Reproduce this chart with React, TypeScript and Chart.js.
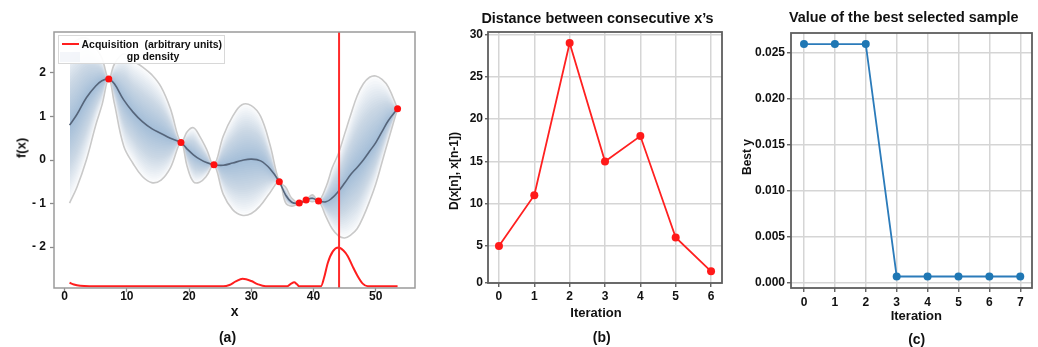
import React, { useEffect, useRef } from "react";
import { Chart, registerables } from "chart.js";
Chart.register(...registerables);

const FONT = '"Liberation Sans", Arial, Helvetica, sans-serif';

// ---------- Panel (a): GP posterior ----------
const gpX = [0.8, 2, 3.5, 5, 6, 7.1, 8, 9.5, 11, 12.5, 14, 15.5, 17, 18.7, 19.7, 20.7, 21.7, 22.8, 24, 25.5, 27, 28.5, 30, 31.5, 33, 34.5, 35.5, 36.5, 37.7, 38.8, 39.8, 40.8, 42, 43, 44, 45, 46, 47, 48, 49, 50, 51, 52, 53.5];
const gpMean = [0.8, 1.05, 1.43, 1.7, 1.82, 1.86, 1.75, 1.38, 1.1, 0.88, 0.72, 0.61, 0.5, 0.4, 0.25, 0.12, 0.02, -0.06, -0.11, -0.12, -0.07, -0.01, 0.02, -0.02, -0.2, -0.5, -0.8, -0.97, -0.99, -0.92, -0.88, -0.94, -0.96, -0.87, -0.72, -0.53, -0.33, -0.17, 0.0, 0.2, 0.4, 0.65, 0.9, 1.18];
const gpUpper = [2.59, 2.76, 2.8, 2.58, 2.34, 1.86, 2.2, 2.44, 2.28, 2.14, 1.96, 1.68, 1.18, 0.4, 0.65, 0.74, 0.55, 0.25, -0.11, 0.55, 1.0, 1.27, 1.25, 1.0, 0.35, -0.5, -0.62, -0.88, -0.99, -0.92, -0.8, -0.94, -0.62, -0.18, 0.15, 0.6, 1.05, 1.47, 1.75, 1.9, 1.93, 1.85, 1.68, 1.18];
const gpLower = [-0.99, -0.62, 0.0, 0.8, 1.26, 1.86, 1.3, 0.32, -0.08, -0.38, -0.52, -0.46, -0.18, 0.4, -0.15, -0.5, -0.51, -0.37, -0.11, -0.79, -1.14, -1.27, -1.23, -1.04, -0.75, -0.5, -0.98, -1.06, -0.99, -0.92, -0.96, -0.94, -1.3, -1.58, -1.74, -1.79, -1.72, -1.58, -1.3, -0.95, -0.55, -0.05, 0.45, 1.18];
const obsX = [7.1, 18.7, 24.0, 34.5, 37.7, 38.8, 40.8, 53.5];
const obsY = [1.86, 0.4, -0.11, -0.5, -0.99, -0.92, -0.94, 1.18];
const acqX = [0.8, 1.5, 2.5, 4, 25.5, 26.5, 27.5, 28.6, 30, 31, 32.3, 35.8, 36.4, 36.9, 37.3, 37.7, 41.2, 41.7, 42.3, 43.1, 44, 44.8, 45.5, 46.3, 47.1, 47.9, 48.7, 53.5];
const acqY = [-2.82, -2.86, -2.89, -2.9, -2.9, -2.87, -2.79, -2.73, -2.78, -2.85, -2.9, -2.9, -2.84, -2.81, -2.85, -2.9, -2.9, -2.7, -2.36, -2.1, -2.01, -2.08, -2.21, -2.45, -2.67, -2.84, -2.9, -2.9];
const nextX = 44.1;
const aXTicks = [0, 10, 20, 30, 40, 50];
const aYTicks = [-2, -1, 0, 1, 2];

// ---------- Panel (b): distance between consecutive x's ----------
const iterB = [0, 1, 2, 3, 4, 5, 6];
const distB = [5, 11, 29, 15, 18, 6, 2];
const bYTicks = [0, 5, 10, 15, 20, 25, 30];

// ---------- Panel (c): best selected sample ----------
const iterC = [0, 1, 2, 3, 4, 5, 6, 7];
const bestC = [0.0259, 0.0259, 0.0259, 0.00065, 0.00065, 0.00065, 0.00065, 0.00065];
const cYTicks = [0, 0.005, 0.01, 0.015, 0.02, 0.025];

const framePlugin = {
  id: "frame",
  afterDatasetsDraw(chart: any, _args: any, opts: any) {
    const { ctx, chartArea: a } = chart;
    ctx.save();
    ctx.strokeStyle = opts.color || "#666";
    ctx.lineWidth = opts.width || 1.5;
    ctx.strokeRect(a.left, a.top, a.right - a.left, a.bottom - a.top);
    ctx.restore();
  },
};

const tickFont = { family: FONT, size: 12, weight: "bold" as const };

function axis(min: number, max: number, ticks: number[], fit: (s: any) => void, extra: any = {}) {
  return {
    type: "linear",
    min,
    max,
    afterBuildTicks: (s: any) => {
      s.ticks = ticks.map((v) => ({ value: v }));
    },
    afterFit: fit,
    border: { display: false },
    ...extra,
  };
}

function baseOptions(padding: any, scales: any, frame: any) {
  return {
    animation: false,
    responsive: false,
    events: [],
    layout: { padding, autoPadding: false },
    plugins: { legend: { display: false }, tooltip: { enabled: false }, title: { display: false }, frame },
    scales,
  };
}

function buildA(canvas: HTMLCanvasElement) {
  const N = 26;
  const bands: any[] = [];
  for (let k = N; k >= 1; k--) {
    const f = k / N;
    bands.push({
      data: gpX.map((x, i) => ({ x, y: gpMean[i] + f * (gpUpper[i] - gpMean[i]) })),
      fill: "+1",
      backgroundColor: "rgba(60,110,170,0.02)",
      borderWidth: 0,
      pointRadius: 0,
      tension: 0.4,
      order: 20,
    });
    bands.push({
      data: gpX.map((x, i) => ({ x, y: gpMean[i] + f * (gpLower[i] - gpMean[i]) })),
      fill: false,
      borderWidth: 0,
      pointRadius: 0,
      tension: 0.4,
      order: 20,
    });
  }
  const datasets = [
    ...bands,
    { data: gpX.map((x, i) => ({ x, y: gpUpper[i] })), borderColor: "#c9c9c9", borderWidth: 1.6, pointRadius: 0, tension: 0.4, fill: false, order: 5 },
    { data: gpX.map((x, i) => ({ x, y: gpLower[i] })), borderColor: "#c9c9c9", borderWidth: 1.6, pointRadius: 0, tension: 0.4, fill: false, order: 5 },
    { data: gpX.map((x, i) => ({ x, y: gpMean[i] })), borderColor: "#56657a", borderWidth: 1.6, pointRadius: 0, tension: 0.4, fill: false, order: 4 },
    { data: acqX.map((x, i) => ({ x, y: acqY[i] })), borderColor: "#ff1e1e", borderWidth: 2, pointRadius: 0, cubicInterpolationMode: "monotone", fill: false, order: 3 },
    { data: [{ x: nextX, y: -3 }, { x: nextX, y: 3 }], borderColor: "#ff2a2a", borderWidth: 2, pointRadius: 0, tension: 0, fill: false, order: 2 },
    { data: obsX.map((x, i) => ({ x, y: obsY[i] })), showLine: false, pointRadius: 3.5, pointBackgroundColor: "#ff1010", pointBorderWidth: 0, order: 1 },
  ];
  const grid = { drawOnChartArea: false, drawTicks: true, tickLength: 4, tickColor: "#8a8a8a", tickWidth: 1.3 };
  return new Chart(canvas, {
    type: "line",
    data: { datasets },
    options: baseOptions(
      { left: 14, top: 32, right: 623, bottom: 39 },
      {
        x: axis(-1.7, 56.3, aXTicks, (s) => { s.height = 20; }, { grid, ticks: { font: tickFont, color: "#111", padding: -3, maxRotation: 0, autoSkip: false } }),
        y: axis(-2.94, 2.94, aYTicks, (s) => { s.width = 40; }, {
          grid,
          ticks: { font: tickFont, color: "#111", padding: 4, callback: (v: number) => (v < 0 ? "- " + Math.abs(v) : String(v)) },
        }),
      },
      { color: "#9a9a9a", width: 1.5 }
    ) as any,
    plugins: [framePlugin],
  });
}

const gridBC = { color: "#d5d5d5", lineWidth: 1.5, drawTicks: true, tickLength: 4, tickColor: "#555", tickWidth: 1.3 };

function buildB(canvas: HTMLCanvasElement) {
  const bYMin = 0.62;
  return new Chart(canvas, {
    type: "line",
    data: {
      datasets: [
        { data: iterB.map((x, i) => ({ x, y: distB[i] })), borderColor: "#ff2020", borderWidth: 1.8, pointRadius: 4, pointBackgroundColor: "#ff1a1a", pointBorderWidth: 0, tension: 0, fill: false },
      ],
    },
    options: baseOptions(
      { left: 448, top: 32, right: 316, bottom: 44 },
      {
        x: axis(-0.31, 6.31, iterB, (s) => { s.height = 20; }, { grid: gridBC, ticks: { font: tickFont, color: "#111", padding: 2.5, maxRotation: 0, autoSkip: false } }),
        y: {
          ...axis(bYMin, 30.31, bYTicks, (s) => { s.width = 40; }, {
            grid: { ...gridBC, tickLength: 3 },
            ticks: { font: tickFont, color: "#111", padding: 2, callback: (_v: number, i: number) => String(bYTicks[i]) },
          }),
          afterBuildTicks: (s: any) => {
            s.ticks = bYTicks.map((v) => ({ value: v === 0 ? bYMin : v }));
          },
        },
      },
      { color: "#5e5e5e", width: 1.8 }
    ) as any,
    plugins: [framePlugin],
  });
}

function buildC(canvas: HTMLCanvasElement) {
  return new Chart(canvas, {
    type: "line",
    data: {
      datasets: [
        { data: iterC.map((x, i) => ({ x, y: bestC[i] })), borderColor: "#2b7bba", borderWidth: 1.8, pointRadius: 4, pointBackgroundColor: "#1f77b4", pointBorderWidth: 0, tension: 0, fill: false },
      ],
    },
    options: baseOptions(
      { left: 751, top: 33, right: 6, bottom: 39 },
      {
        x: axis(-0.42, 7.38, iterC, (s) => { s.height = 20; }, { grid: gridBC, ticks: { font: tickFont, color: "#111", padding: 3.5, maxRotation: 0, autoSkip: false } }),
        y: axis(-0.0006, 0.0271, cYTicks, (s) => { s.width = 40; }, {
          grid: gridBC,
          ticks: { font: tickFont, color: "#111", padding: 2, callback: (v: number) => v.toFixed(3) },
        }),
      },
      { color: "#5e5e5e", width: 1.8 }
    ) as any,
    plugins: [framePlugin],
  });
}

function Txt(props: { x: number; y: number; size: number; rot?: boolean; children: React.ReactNode }) {
  return (
    <div
      style={{
        position: "absolute",
        left: props.x,
        top: props.y,
        transform: "translate(-50%,-50%)" + (props.rot ? " rotate(-90deg)" : ""),
        font: `bold ${props.size}px ${FONT}`,
        lineHeight: 1,
        whiteSpace: "pre",
        color: "#111",
      }}
    >
      {props.children}
    </div>
  );
}

export default function App() {
  const refA = useRef<HTMLCanvasElement>(null);
  const refB = useRef<HTMLCanvasElement>(null);
  const refC = useRef<HTMLCanvasElement>(null);

  useEffect(() => {
    const a = buildA(refA.current!);
    const b = buildB(refB.current!);
    const c = buildC(refC.current!);
    return () => {
      a.destroy();
      b.destroy();
      c.destroy();
    };
  }, []);

  const cv: React.CSSProperties = { position: "absolute", left: 0, top: 0, display: "block" };

  return (
    <div style={{ position: "absolute", left: 0, top: 0, width: 1038, height: 347, background: "#fff", overflow: "hidden" }}>
      <canvas ref={refA} width={1038} height={347} style={cv} />
      <canvas ref={refB} width={1038} height={347} style={cv} />
      <canvas ref={refC} width={1038} height={347} style={cv} />

      {/* Panel (a) legend */}
      <div style={{ position: "absolute", left: 58, top: 35, width: 167, height: 29, border: "1px solid #d8d8d8", background: "rgba(255,255,255,0.92)", boxSizing: "border-box" }} />
      <div style={{ position: "absolute", left: 62, top: 43, width: 17, height: 2, background: "#ff1e1e" }} />
      <div style={{ position: "absolute", left: 60, top: 52, width: 20, height: 10, background: "rgba(60,110,170,0.06)" }} />
      <div style={{ position: "absolute", left: 81.5, top: 44, transform: "translateY(-50%)", font: `bold 10.5px ${FONT}`, lineHeight: 1, whiteSpace: "pre", color: "#111" }}>
        {"Acquisition  (arbitrary units)"}
      </div>
      <Txt x={153} y={56.3} size={10.5}>gp density</Txt>

      {/* Panel (a) axis titles */}
      <Txt x={21} y={147.5} size={13} rot>f(x)</Txt>
      <Txt x={234.7} y={311.3} size={14}>x</Txt>
      <Txt x={227.5} y={337} size={14}>(a)</Txt>

      {/* Panel (b) */}
      <Txt x={597.5} y={18.3} size={14.4}>Distance between consecutive x’s</Txt>
      <Txt x={453.6} y={170.8} size={12} rot>D(x[n], x[n-1])</Txt>
      <Txt x={596} y={311.7} size={13}>Iteration</Txt>
      <Txt x={601.7} y={337} size={14}>(b)</Txt>

      {/* Panel (c) */}
      <Txt x={903.7} y={16.7} size={14.4}>Value of the best selected sample</Txt>
      <Txt x={746.7} y={156.7} size={12} rot>Best y</Txt>
      <Txt x={916.3} y={314.7} size={13}>Iteration</Txt>
      <Txt x={916.7} y={339} size={14}>(c)</Txt>
    </div>
  );
}
